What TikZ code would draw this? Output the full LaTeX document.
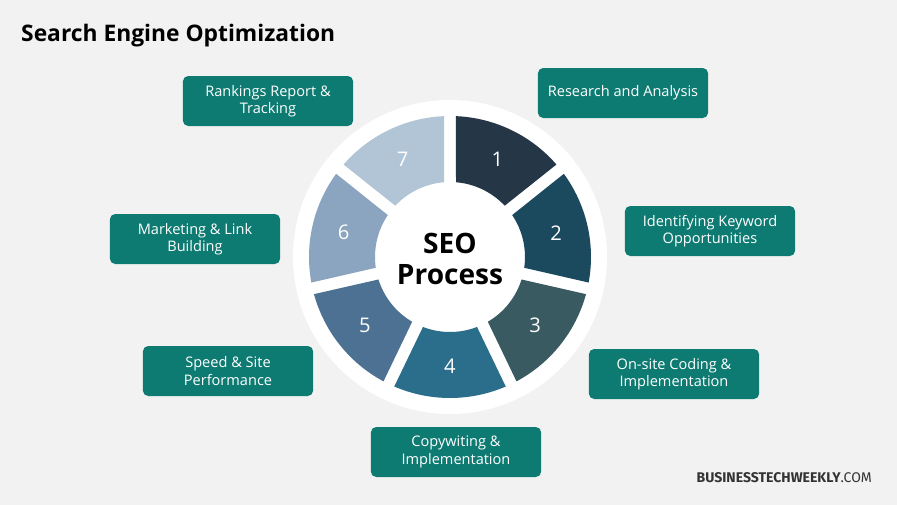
\documentclass[tikz,border=0pt]{standalone}
\usepackage{fontspec}
\setmainfont{Open Sans}
\newfontfamily\condfont{Fira Sans}
\definecolor{bgcol}{HTML}{F2F2F2}
\definecolor{boxcol}{HTML}{0E7B72}
\definecolor{segA}{HTML}{253746}
\definecolor{segB}{HTML}{1B4A5F}
\definecolor{segC}{HTML}{3A5A62}
\definecolor{segD}{HTML}{2B6E8C}
\definecolor{segE}{HTML}{4D7193}
\definecolor{segF}{HTML}{8BA4C0}
\definecolor{segG}{HTML}{B1C5D7}
\tikzset{
  stepbox/.style={fill=boxcol,rounded corners=3pt,minimum width=97pt,minimum height=28.5pt,
    text=white,align=center,font=\fontsize{8.3}{10}\selectfont,inner sep=2pt},
  segnum/.style={text=white,font=\fontsize{11.5}{12}\selectfont}
}
\begin{document}
\begin{tikzpicture}[x=0.57pt,y=-0.57pt]
		\fill[bgcol] (0,0) rectangle (897,505);
		\useasboundingbox (0,0) rectangle (897,505);
		
		\node[anchor=west,font=\bfseries\fontsize{13}{15}\selectfont] (title) at (15,36) {Search Engine Optimization};
		
		% wheel
		\fill[white] (450,257) circle (157);
		\begin{scope}[shift={(450,257)},y=0.57pt]
		\foreach \k/\col in {1/segA,2/segB,3/segC,4/segD,5/segE,6/segF,7/segG}{
			\pgfmathsetmacro{\as}{90-(\k-1)*360/7}
			\pgfmathsetmacro{\ae}{\as-360/7}
			\pgfmathsetmacro{\am}{\as-180/7}
			\fill[\col] (\as-2.42:141) arc[start angle=\as-2.42,end angle=\ae+2.42,radius=141]
				-- (\ae+4.59:75) arc[start angle=\ae+4.59,end angle=\as-4.59,radius=75] -- cycle;
			\node[segnum] (n\k) at (\am:109) {\k};
		}
		\node[font=\bfseries\fontsize{16}{18}\selectfont,align=center] (seo) at (0,-2) {SEO\\Process};
		\end{scope}
		
		% steps
		\node[stepbox] (research) at (623,93) {Research and Analysis};
		\node[stepbox] (keyword) at (710,231) {Identifying Keyword\\Opportunities};
		\node[stepbox] (coding) at (674,374) {On-site Coding \&\\Implementation};
		\node[stepbox] (copy) at (456,452) {Copywiting \&\\Implementation};
		\node[stepbox] (speed) at (228,371) {Speed \& Site\\Performance};
		\node[stepbox] (link) at (195,239) {Marketing \& Link\\Building};
		\node[stepbox] (rank) at (268,101) {Rankings Report \&\\Tracking};
		
		\node[anchor=east,font=\fontsize{8}{9}\selectfont,text=black!80] (brand) at (878,478) {{\condfont\bfseries BUSINESSTECHWEEKLY}{\condfont .COM}};
	\end{tikzpicture}
\end{document}
